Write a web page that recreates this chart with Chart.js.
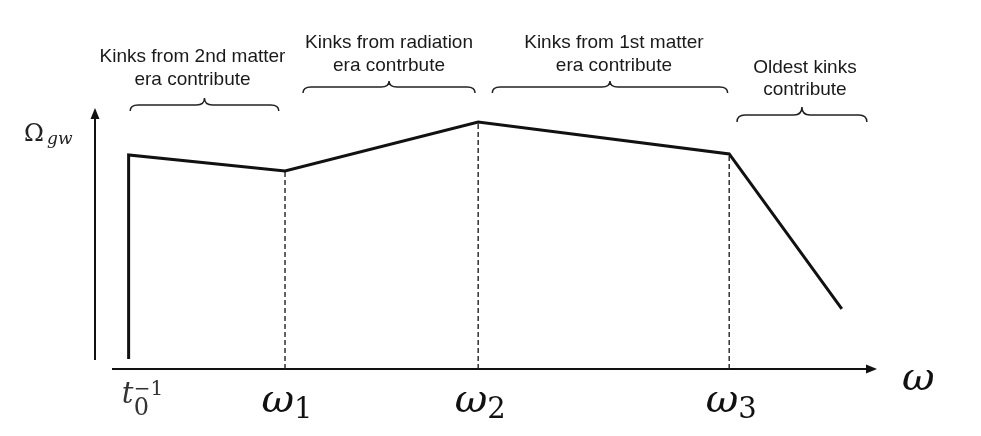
<!DOCTYPE html>
<html>
<head>
<meta charset="utf-8">
<script src="https://cdn.jsdelivr.net/npm/chart.js@4/dist/chart.umd.min.js"></script>
<style>
  html, body { margin: 0; padding: 0; background: #fff; }
  #wrap { width: 981px; height: 436px; position: relative; }
</style>
</head>
<body>
<div id="wrap"><canvas id="c" width="981" height="436"></canvas></div>
<script>
// ---- data (schematic units) ----
const omega   = [0.43, 0.43, 2.43, 4.90, 8.11, 9.55];   // frequency positions of the spectrum vertices
const omegaGW = [0.38, 8.20, 7.59, 9.46, 8.24, 2.30];   // Omega_gw at those vertices
const breakIdx = [2, 3, 4];                              // vertices at omega_1, omega_2, omega_3
const breakSubs = ['1', '2', '3'];                       // tick label subscripts
const eraLines = [
  ['Kinks from 2nd matter', 'era contribute'],
  ['Kinks from radiation', 'era contrbute'],
  ['Kinks from 1st matter', 'era contribute'],
  ['Oldest kinks', 'contribute']
];
const eraStart = [0.45, 2.66, 5.08, 8.21];
const eraEnd   = [2.35, 4.86, 8.09, 9.87];

// ---- layout / style (not data) ----
const braceStyle = [
  { bar: 105, tip: 98, end: 111, textDx: -12, base: [62, 85] },
  { bar: 87,  tip: 81, end: 93,  textDx: 0,   base: [48, 71] },
  { bar: 87,  tip: 81, end: 93,  textDx: 4,   base: [48, 71] },
  { bar: 115, tip: 107, end: 122, textDx: 3,  base: [73, 95] }
];

const mainData = omega.map((x, i) => ({ x, y: omegaGW[i] }));
const datasets = [{
  data: mainData,
  showLine: true,
  borderColor: '#111',
  borderWidth: 3,
  pointRadius: 0,
  tension: 0,
  borderJoinStyle: 'miter',
  clip: false
}];
breakIdx.forEach(i => {
  datasets.push({
    data: [{ x: omega[i], y: 0 }, { x: omega[i], y: omegaGW[i] }],
    showLine: true,
    borderColor: '#222',
    borderWidth: 1.4,
    borderDash: [5, 3],
    pointRadius: 0,
    clip: false
  });
});

function arrow(ctx, x, y, dir) {
  ctx.beginPath();
  if (dir === 'up') {
    ctx.moveTo(x, y); ctx.lineTo(x - 4.5, y + 11); ctx.lineTo(x + 4.5, y + 11);
  } else {
    ctx.moveTo(x, y); ctx.lineTo(x - 11, y - 4.5); ctx.lineTo(x - 11, y + 4.5);
  }
  ctx.closePath(); ctx.fill();
}

function brace(ctx, x1, x2, s) {
  const xm = (x1 + x2) / 2, r = 8;
  ctx.beginPath();
  ctx.moveTo(x1, s.end);
  ctx.quadraticCurveTo(x1, s.bar, x1 + r, s.bar);
  ctx.lineTo(xm - r, s.bar);
  ctx.quadraticCurveTo(xm, s.bar, xm, s.tip);
  ctx.quadraticCurveTo(xm, s.bar, xm + r, s.bar);
  ctx.lineTo(x2 - r, s.bar);
  ctx.quadraticCurveTo(x2, s.bar, x2, s.end);
  ctx.stroke();
}

const decor = {
  id: 'decor',
  beforeDatasetsDraw(chart) {
    const { ctx, scales: { x, y } } = chart;
    ctx.save();
    ctx.fillStyle = '#111'; ctx.strokeStyle = '#111'; ctx.lineWidth = 2;
    // y axis
    const y0 = y.getPixelForValue(0), yTop = y.getPixelForValue(10);
    const x0 = x.getPixelForValue(0), xEnd = x.getPixelForValue(10);
    ctx.beginPath(); ctx.moveTo(x0, y0 - 9); ctx.lineTo(x0, yTop + 8); ctx.stroke();
    arrow(ctx, x0, yTop, 'up');
    // x axis
    ctx.beginPath(); ctx.moveTo(x0 + 17, y0); ctx.lineTo(xEnd - 8, y0); ctx.stroke();
    arrow(ctx, xEnd, y0, 'right');
    ctx.restore();
  },
  afterDraw(chart) {
    const { ctx, scales: { x, y } } = chart;
    ctx.save();
    ctx.fillStyle = '#111';
    ctx.textBaseline = 'alphabetic';
    // tick labels omega_i
    breakIdx.forEach((idx, k) => {
      const px = x.getPixelForValue(omega[idx]);
      ctx.font = 'italic 40px "DejaVu Serif"';
      const w = ctx.measureText('ω').width;
      ctx.font = '29px "DejaVu Serif"';
      const ws = ctx.measureText(breakSubs[k]).width;
      const left = px - (w + ws) / 2 + 2;
      ctx.font = 'italic 40px "DejaVu Serif"';
      ctx.textAlign = 'left';
      ctx.fillText('ω', left, 412);
      ctx.font = '29px "DejaVu Serif"';
      ctx.fillText(breakSubs[k], left + w, 418);
    });
    // t0^-1 label
    ctx.fillStyle = '#333';
    ctx.textAlign = 'left';
    ctx.font = 'italic 29px "DejaVu Serif"';
    ctx.fillText('t', x.getPixelForValue(omega[0]) - 7, 403);
    ctx.font = '24px "DejaVu Serif"';
    ctx.fillText('0', x.getPixelForValue(omega[0]) + 5, 415);
    ctx.font = '20px "DejaVu Serif"';
    ctx.fillText('−1', x.getPixelForValue(omega[0]) + 5, 395);
    // axis titles
    ctx.fillStyle = '#111';
    ctx.font = 'italic 40px "DejaVu Serif"';
    ctx.fillText('ω', 902, 390);
    ctx.fillStyle = '#222';
    ctx.font = '24px "DejaVu Serif"';
    ctx.fillText('Ω', 24, 141);
    ctx.font = 'italic 17px "DejaVu Serif"';
    ctx.fillText('gw', 47, 144);
    // braces and era labels
    ctx.strokeStyle = '#222'; ctx.lineWidth = 1.5;
    ctx.fillStyle = '#1a1a1a';
    ctx.font = '19px "Liberation Sans"';
    ctx.textAlign = 'center';
    eraLines.forEach((lines, i) => {
      const x1 = x.getPixelForValue(eraStart[i]), x2 = x.getPixelForValue(eraEnd[i]);
      const s = braceStyle[i];
      brace(ctx, x1, x2, s);
      const cx = (x1 + x2) / 2 + s.textDx;
      lines.forEach((t, j) => ctx.fillText(t, cx, s.base[j]));
    });
    ctx.restore();
  }
};

new Chart(document.getElementById('c'), {
  type: 'scatter',
  data: { datasets },
  options: {
    responsive: false,
    devicePixelRatio: 1,
    animation: false,
    layout: { padding: { left: 95, right: 104, top: 108, bottom: 67 } },
    plugins: { legend: { display: false }, tooltip: { enabled: false } },
    scales: {
      x: { type: 'linear', min: 0, max: 10, display: false },
      y: { type: 'linear', min: 0, max: 10, display: false }
    }
  },
  plugins: [decor]
});
</script>
</body>
</html>
